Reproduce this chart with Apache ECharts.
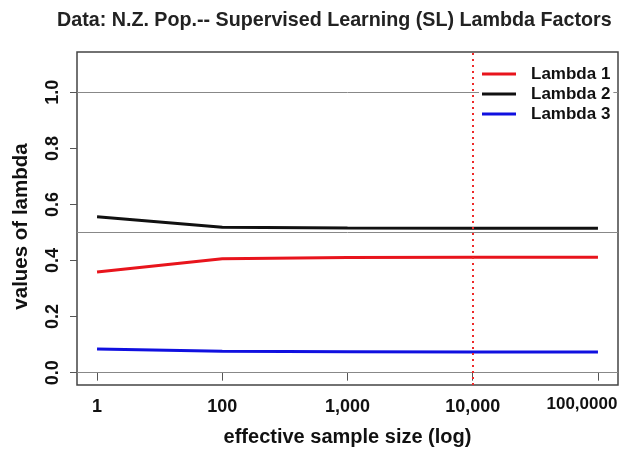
<!DOCTYPE html>
<html>
<head>
<meta charset="utf-8">
<script src="https://cdn.jsdelivr.net/npm/echarts@6/dist/echarts.min.js"></script>
<style>
  html, body { margin: 0; padding: 0; background: #fff; }
  #chart { width: 627px; height: 452px; }
</style>
</head>
<body>
<div id="chart"></div>
<script>
// Effective sample sizes, plotted at evenly spaced positions 1..n
var sampleSizes = [1, 100, 1000, 10000, 100000];
var tickLabels = ['1', '100', '1,000', '10,000', '100,0000'];

// Lambda factors at each sample size
var lambda1 = [0.359, 0.406, 0.411, 0.412, 0.412];
var lambda2 = [0.556, 0.519, 0.516, 0.515, 0.515];
var lambda3 = [0.084, 0.076, 0.075, 0.074, 0.074];

var yTicks = [0, 0.2, 0.4, 0.6, 0.8, 1.0];
var refLevels = [0, 0.5, 1.0];
var markedSize = 10000;

var positions = sampleSizes.map(function (s, i) { return i + 1; });
function pairs(vals) {
  return vals.map(function (v, i) { return [positions[i], v]; });
}
var markedPos = positions[sampleSizes.indexOf(markedSize)];

var font = 'Liberation Sans, Arial, sans-serif';
var chart = echarts.init(document.getElementById('chart'), null, { renderer: 'canvas' });

chart.setOption({
  animation: false,
  backgroundColor: '#fff',
  title: {
    text: 'Data: N.Z. Pop.-- Supervised Learning (SL) Lambda Factors',
    left: 52,
    top: 6,
    textStyle: { fontFamily: font, fontWeight: 'bold', fontSize: 19.7, color: '#222' }
  },
  legend: {
    orient: 'vertical',
    left: 479,
    top: 59,
    z: 10,
    padding: [5, 3, 5, 3],
    backgroundColor: '#fff',
    icon: 'rect',
    itemWidth: 34,
    itemHeight: 3,
    itemGap: 0,
    textStyle: {
      fontFamily: font, fontWeight: 'bold', fontSize: 17, color: '#111',
      lineHeight: 20, padding: [0, 0, 0, 10]
    },
    data: ['Lambda 1', 'Lambda 2', 'Lambda 3']
  },
  grid: {
    left: 77, right: 9, top: 52, bottom: 67,
    outerBoundsMode: 'none',
    show: true, borderColor: '#444', borderWidth: 1.5
  },
  xAxis: {
    type: 'value',
    min: 0.84,
    max: 5.16,
    name: 'effective sample size (log)',
    nameLocation: 'middle',
    nameGap: 42,
    nameTextStyle: { fontFamily: font, fontWeight: 'bold', fontSize: 20, color: '#111' },
    axisLine: { show: false },
    splitLine: { show: false },
    axisTick: {
      show: true, length: 8, customValues: positions,
      lineStyle: { color: '#555', width: 1 }
    },
    axisLabel: {
      customValues: positions,
      margin: 13,
      fontFamily: font, fontWeight: 'bold', fontSize: 18, color: '#111',
      formatter: function (v) {
        var i = Math.round(v) - 1;
        // the widest label is pulled in from the right edge
        return i === tickLabels.length - 1 ? '{last|' + tickLabels[i] + '}' : tickLabels[i];
      },
      rich: {
        last: {
          fontFamily: font, fontWeight: 'bold', fontSize: 17, color: '#111',
          lineHeight: 12, padding: [0, 32, 0, 0]
        }
      }
    }
  },
  yAxis: {
    type: 'value',
    min: -0.044,
    max: 1.144,
    name: 'values of lambda',
    nameLocation: 'middle',
    nameGap: 45,
    nameTextStyle: {
      fontFamily: font, fontWeight: 'bold', fontSize: 20.5, color: '#111',
      padding: [0, 16, 0, 0]
    },
    axisLine: { show: false },
    splitLine: { show: false },
    axisTick: {
      show: true, length: 7, customValues: yTicks,
      lineStyle: { color: '#555', width: 1 }
    },
    axisLabel: {
      customValues: yTicks,
      rotate: 90,
      margin: 15,
      fontFamily: font, fontWeight: 'bold', fontSize: 18, color: '#111',
      formatter: function (v) { return v.toFixed(1); }
    }
  },
  series: [
    {
      // horizontal reference levels
      name: 'levels', type: 'line', data: [], z: 2,
      markLine: {
        silent: true,
        symbol: 'none',
        label: { show: false },
        lineStyle: { color: '#888', width: 1, type: 'solid' },
        data: refLevels.map(function (y) { return { yAxis: y }; })
      }
    },
    {
      name: 'Lambda 1', type: 'line', data: pairs(lambda1),
      symbol: 'none', color: '#e8141c',
      lineStyle: { width: 3, color: '#e8141c' },
      z: 3
    },
    {
      name: 'Lambda 2', type: 'line', data: pairs(lambda2),
      symbol: 'none', color: '#111',
      lineStyle: { width: 3, color: '#111' },
      z: 3
    },
    {
      name: 'Lambda 3', type: 'line', data: pairs(lambda3),
      symbol: 'none', color: '#1010e0',
      lineStyle: { width: 3, color: '#1010e0' },
      z: 3
    },
    {
      // marked sample size
      name: 'marked', type: 'line', data: [], z: 5,
      markLine: {
        silent: true,
        symbol: 'none',
        label: { show: false },
        lineStyle: { color: '#ee2a2a', width: 2, type: [2, 4] },
        data: [{ xAxis: markedPos }]
      }
    }
  ]
});
</script>
</body>
</html>
